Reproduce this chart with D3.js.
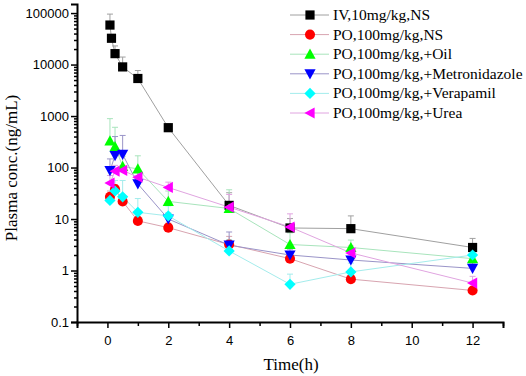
<!DOCTYPE html>
<html>
<head>
<meta charset="utf-8">
<script src="https://cdn.jsdelivr.net/npm/d3@7"></script>
<style>
  body { margin: 0; background: #fff; }
  svg text { fill: #000; }
</style>
</head>
<body>
<div id="chart"></div>
<script>
// Sampling times (h)
const timesIV = [0.083, 0.133, 0.25, 0.5, 1, 2, 4, 6, 8, 12];
const timesPO = [0.083, 0.25, 0.5, 1, 2, 4, 6, 8, 12];

// Mean plasma concentration (ng/mL) and SD for each group
const ivNS = [58500, 32400, 16300, 9000, 5360, 594, 18.4, 6.7, 6.5, 2.8];
const ivNSsd = [37000, 6000, 6700, 5000, 2300, 110, 14, 3.5, 5, 1.4];
const poNS = [27, 38, 22, 9.2, 6.8, 3.2, 1.7, 0.68, 0.41];
const poNSsd = [8, 8, 6, 2, 1.5, 1.4, 0.6, 0.15, 0.05];
const poOil = [330, 255, 105, 94, 22, 16, 3.2, 2.8, 1.7];
const poOilsd = [560, 350, 60, 75, 13, 21, 2.2, 1.1, 0.4];
const poMetro = [87, 170, 180, 48, 10, 3.1, 2.0, 1.6, 1.1];
const poMetrosd = [60, 230, 240, 32, 3, 2.5, 0.6, 0.5, 0.3];
const poVera = [23, 35, 27, 13.5, 11.5, 2.4, 0.54, 0.94, 2.0];
const poVerasd = [7, 21, 29, 11.5, 6.5, 1.6, 0.31, 0.45, 0.6];
const poUrea = [50, 85, 88, 65, 41, 17, 7, 2.2, 0.57];
const poUreasd = [20, 25, 22, 25, 11, 13, 5.6, 0.8, 0.2];

const groupNames = [
  'IV,10mg/kg,NS',
  'PO,100mg/kg,NS',
  'PO,100mg/kg,+Oil',
  'PO,100mg/kg,+Metronidazole',
  'PO,100mg/kg,+Verapamil',
  'PO,100mg/kg,+Urea'
];

const xTicks = [0, 2, 4, 6, 8, 10, 12];
const yTicks = [0.1, 1, 10, 100, 1000, 10000, 100000];

const series = [
  { name: groupNames[0], t: timesIV, v: ivNS, sd: ivNSsd, fill: '#000000', line: '#a0a0a0', shape: 'square' },
  { name: groupNames[1], t: timesPO, v: poNS, sd: poNSsd, fill: '#ff0000', line: '#d8a4b0', shape: 'circle' },
  { name: groupNames[2], t: timesPO, v: poOil, sd: poOilsd, fill: '#00ff00', line: '#a8e4bc', shape: 'up' },
  { name: groupNames[3], t: timesPO, v: poMetro, sd: poMetrosd, fill: '#0000ff', line: '#9a94c8', shape: 'down' },
  { name: groupNames[4], t: timesPO, v: poVera, sd: poVerasd, fill: '#00ffff', line: '#a4ecec', shape: 'diamond' },
  { name: groupNames[5], t: timesPO, v: poUrea, sd: poUreasd, fill: '#ff00ff', line: '#e0a4e0', shape: 'left' }
];

const width = 526, height = 376;
const svg = d3.select('#chart').append('svg')
  .attr('width', width)
  .attr('height', height);

const x = d3.scaleLinear().domain([-1, 13]).range([77, 503]);
const y = d3.scaleLog().domain([0.1, 150000]).range([322, 4]);

// Marker shapes
function markerPath(shape) {
  const s = 4.6;
  switch (shape) {
    case 'square': return `M${-s},${-s}H${s}V${s}H${-s}Z`;
    case 'circle': return d3.symbol(d3.symbolCircle, 80)();
    case 'up': return `M0,${-s - 1}L${s + 1},${s}L${-s - 1},${s}Z`;
    case 'down': return `M0,${s + 1}L${s + 1},${-s}L${-s - 1},${-s}Z`;
    case 'diamond': return `M0,${-s - 1}L${s + 1},0L0,${s + 1}L${-s - 1},0Z`;
    case 'left': return `M${-s - 1},0L${s},${-s - 1}L${s},${s + 1}Z`;
  }
}

const plot = svg.append('g');

// Lines first, then error bars, then markers
series.forEach(s => {
  const pts = s.t.map((t, i) => [t, s.v[i], s.sd[i]]);
  plot.append('path')
    .datum(pts)
    .attr('fill', 'none')
    .attr('stroke', s.line)
    .attr('stroke-width', 1)
    .attr('d', d3.line().x(d => x(d[0])).y(d => y(d[1])));
});

series.forEach(s => {
  const pts = s.t.map((t, i) => [t, s.v[i], s.sd[i]]);
  const eb = plot.append('g').attr('stroke', s.line).attr('stroke-width', 1);
  pts.forEach(d => {
    const cx = x(d[0]);
    const yTop = y(d[1] + d[2]);
    eb.append('line').attr('x1', cx).attr('x2', cx).attr('y1', y(d[1])).attr('y2', yTop);
    eb.append('line').attr('x1', cx - 3).attr('x2', cx + 3).attr('y1', yTop).attr('y2', yTop);
  });
});

series.forEach(s => {
  const pts = s.t.map((t, i) => [t, s.v[i]]);
  plot.append('g').selectAll('path')
    .data(pts)
    .join('path')
    .attr('transform', d => `translate(${x(d[0])},${y(d[1])})`)
    .attr('d', markerPath(s.shape))
    .attr('fill', s.fill);
});

// Axes
const xAxis = svg.append('g')
  .attr('transform', 'translate(0,322)')
  .call(d3.axisBottom(x).tickValues(xTicks).tickSize(6).tickFormat(d3.format('d')));
svg.append('g')
  .attr('transform', 'translate(0,322)')
  .call(d3.axisBottom(x).tickValues(d3.range(-1, 14, 2)).tickSize(4).tickFormat(''))
  .call(g => g.select('.domain').remove());

const yAxis = svg.append('g')
  .attr('transform', 'translate(77,0)')
  .call(d3.axisLeft(y).tickValues(yTicks).tickSize(6).tickFormat(d => d < 1 ? '0.1' : d3.format('d')(d)));

const minor = [];
yTicks.slice(0, -1).forEach(t => { for (let k = 2; k <= 9; k++) minor.push(t * k); });
minor.push(200000 > 150000 ? 0 : 0);
svg.append('g')
  .attr('transform', 'translate(77,0)')
  .call(d3.axisLeft(y).tickValues(minor.filter(v => v > 0)).tickSize(3).tickFormat(''))
  .call(g => g.select('.domain').remove());

svg.selectAll('.domain').attr('stroke', '#000').attr('stroke-width', 2);
svg.selectAll('.tick line').attr('stroke', '#000').attr('stroke-width', 1.5);
xAxis.selectAll('text')
  .attr('font-family', 'Liberation Sans, Arial, sans-serif')
  .attr('font-size', 13).attr('dy', '1.05em');
yAxis.selectAll('text')
  .attr('font-family', 'Liberation Sans, Arial, sans-serif')
  .attr('font-size', 13).attr('x', -8);

// Axis titles
svg.append('text')
  .attr('x', 291).attr('y', 370)
  .attr('text-anchor', 'middle')
  .attr('font-family', 'Liberation Serif, Times New Roman, serif')
  .attr('font-size', 17)
  .text('Time(h)');
svg.append('text')
  .attr('transform', 'translate(17,168) rotate(-90)')
  .attr('text-anchor', 'middle')
  .attr('font-family', 'Liberation Serif, Times New Roman, serif')
  .attr('font-size', 17)
  .text('Plasma conc.(ng/mL)');

// Legend
const legend = svg.append('g');
series.forEach((s, i) => {
  const ly = 15 + i * 19.6;
  legend.append('line')
    .attr('x1', 290).attr('x2', 329).attr('y1', ly).attr('y2', ly)
    .attr('stroke', s.line).attr('stroke-width', 1);
  legend.append('path')
    .attr('transform', `translate(310,${ly})`)
    .attr('d', markerPath(s.shape))
    .attr('fill', s.fill);
  legend.append('text')
    .attr('x', 333).attr('y', ly + 5)
    .attr('font-family', 'Liberation Serif, Times New Roman, serif')
    .attr('font-size', 15.5)
    .text(s.name);
});
</script>
</body>
</html>
